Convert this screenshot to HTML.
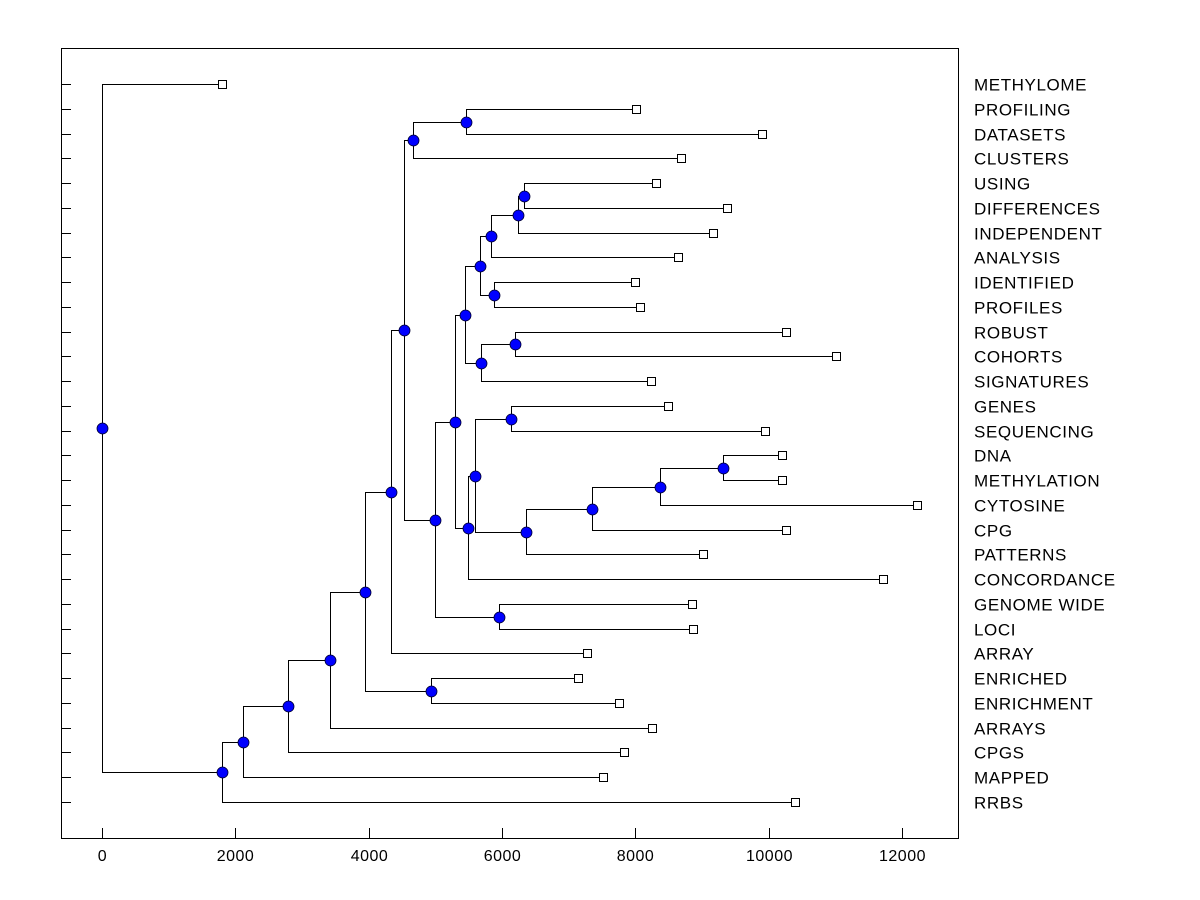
<!DOCTYPE html>
<html><head><meta charset="utf-8">
<style>
html,body{margin:0;padding:0;background:#fff;}
svg{display:block;font-family:"Liberation Sans",Arial,sans-serif;}
</style></head>
<body>
<svg id="chart" width="1200" height="900" viewBox="0 0 1200 900" xmlns="http://www.w3.org/2000/svg" shape-rendering="crispEdges">
<rect x="0" y="0" width="1200" height="900" fill="#fff"/>
<rect x="61.5" y="48.5" width="897" height="790" fill="none" stroke="#000" stroke-width="1"/>
<g id="axes"></g>
<g id="links"></g>
<g id="marks"></g>
<g id="labels"></g>
</svg>
<script>
const leafNames = ["METHYLOME","PROFILING","DATASETS","CLUSTERS","USING","DIFFERENCES","INDEPENDENT","ANALYSIS","IDENTIFIED","PROFILES","ROBUST","COHORTS","SIGNATURES","GENES","SEQUENCING","DNA","METHYLATION","CYTOSINE","CPG","PATTERNS","CONCORDANCE","GENOME WIDE","LOCI","ARRAY","ENRICHED","ENRICHMENT","ARRAYS","CPGS","MAPPED","RRBS"];
const leafValues = [1800,8010,9900,8685,8310,9375,9165,8640,7995,8070,10260,11010,8235,8490,9945,10200,10200,12225,10260,9015,11715,8850,8865,7275,7140,7755,8250,7830,7515,10395];
// merge nodes: [height, childA, childB]; children: "L<i>" leaf index or "N<j>" node index
const nodeHeights = [9315,8370,7350,6360,6135,5595,5490,6195,5685,6330,6240,5835,5880,5670,5445,5295,5955,4995,5460,4665,4530,4335,4935,3945,3420,2790,2115,1800,0];
const nodeChildren = [
 ["L15","L16"],["N0","L17"],["N1","L18"],["N2","L19"],["L13","L14"],["N4","N3"],["N5","L20"],
 ["L10","L11"],["N7","L12"],["L4","L5"],["N9","L6"],["N10","L7"],["L8","L9"],["N11","N12"],
 ["N13","N8"],["N14","N6"],["L21","L22"],["N15","N16"],["L1","L2"],["N18","L3"],["N19","N17"],
 ["L23","N20"],["L24","L25"],["N21","N22"],["N23","L26"],["N24","L27"],["N25","L28"],["N26","L29"],["L0","N27"]
];
const xTicks = [0,2000,4000,6000,8000,10000,12000];

const NS="http://www.w3.org/2000/svg";
const X0=102, XS=800/12000, Y0=84, YS=(802-84)/29;
const sx=v=>Math.round(X0+v*XS)+0.5, sy=i=>Math.round(Y0+i*YS)+0.5;
function el(tag,attrs,parent){const e=document.createElementNS(NS,tag);for(const k in attrs)e.setAttribute(k,attrs[k]);document.getElementById(parent).appendChild(e);return e;}

leafNames.forEach((n,i)=>{
 const t=el("line",{x1:61,x2:71,y1:sy(i),y2:sy(i),stroke:"#000","stroke-width":1},"axes");
 
 
});
xTicks.forEach(v=>{
 const t=el("line",{x1:sx(v),x2:sx(v),y1:828,y2:838,stroke:"#000","stroke-width":1},"axes");
 
 
 const l=el("text",{x:sx(v),y:861,"text-anchor":"middle","font-size":"16px","letter-spacing":"0.5px",fill:"#000","shape-rendering":"auto"},"axes");
 l.textContent=v;
 
 
});

const pos={};
function get(id){
 if(pos[id])return pos[id];
 if(id[0]==="L"){const i=+id.slice(1);pos[id]={x:sx(leafValues[i]),y:sy(i)};}
 else{const j=+id.slice(1);const a=get(nodeChildren[j][0]),b=get(nodeChildren[j][1]);pos[id]={x:sx(nodeHeights[j]),y:Math.round((a.y+b.y)/2-0.5)+0.5};}
 return pos[id];
}
nodeChildren.forEach((c,j)=>{
 const p=get("N"+j),a=get(c[0]),b=get(c[1]);
 const path=el("path",{d:`M${a.x},${a.y}H${p.x}V${b.y}H${b.x}`,fill:"none",stroke:"#000","stroke-width":1},"links");
 
 
});
nodeChildren.forEach((c,j)=>{
 const p=get("N"+j);
 const m=el("circle",{cx:p.x,cy:p.y,r:5.5,fill:"#0000ff",stroke:"#000033","stroke-width":0.8,"shape-rendering":"auto"},"marks");
 
 
});
leafNames.forEach((n,i)=>{
 const p=get("L"+i);
 const r=el("rect",{x:p.x-4,y:p.y-4,width:8,height:8,fill:"#fff",stroke:"#000","stroke-width":1},"marks");
 
 
 const t=el("text",{x:974,y:sy(i)+6,"font-size":"17px","letter-spacing":"0.6px",fill:"#000","shape-rendering":"auto"},"labels");
 t.textContent=n;
 
 
});
</script>
</body></html>
